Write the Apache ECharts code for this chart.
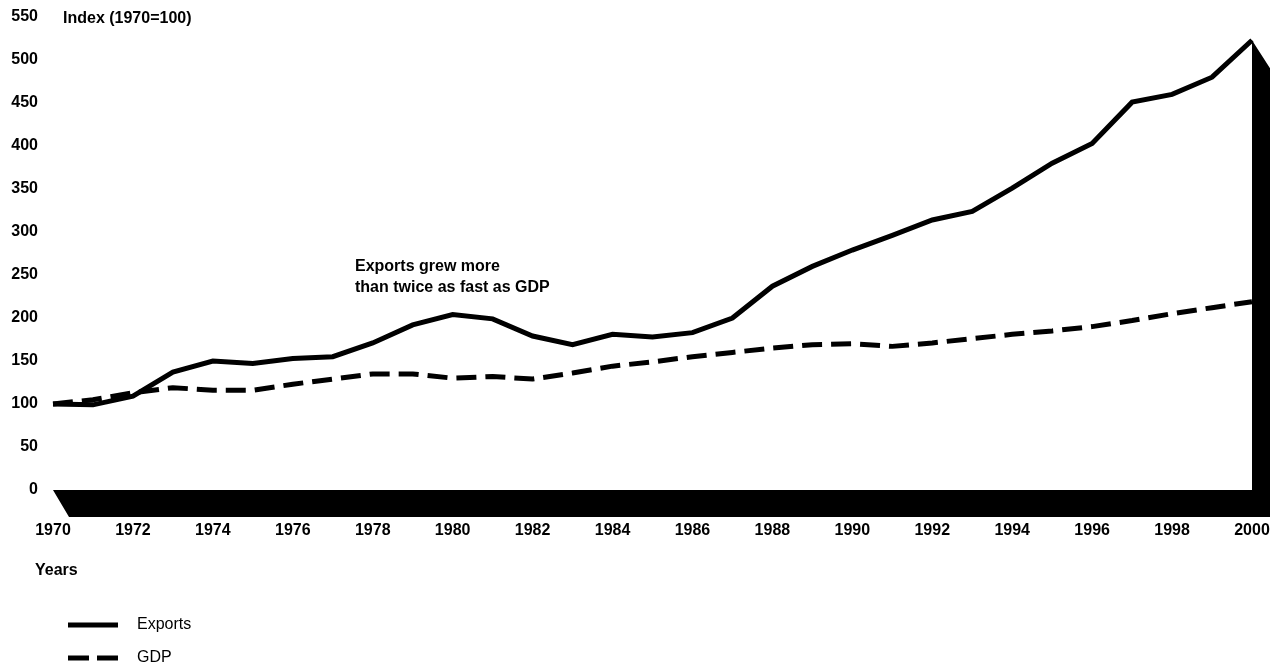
<!DOCTYPE html>
<html>
<head>
<meta charset="utf-8">
<script src="https://cdn.jsdelivr.net/npm/echarts@6/dist/echarts.min.js"></script>
<style>
html,body{margin:0;padding:0;background:#fff;}
#chart{width:1277px;height:665px;}
</style>
</head>
<body>
<div id="chart"></div>
<script>
const years = [1970,1971,1972,1973,1974,1975,1976,1977,1978,1979,1980,1981,1982,1983,1984,1985,1986,1987,1988,1989,1990,1991,1992,1993,1994,1995,1996,1997,1998,1999,2000];
const exportsIdx = [100,99,109,137,150,147,153,155,171,192,204,199,179,169,181,178,183,200,237,260,279,296,314,324,351,380,403,451,460,480,523];
const gdpIdx = [100,105,113,119,116,116,123,129,135,135,130,132,129,136,144,149,155,160,165,169,170,167,171,176,181,185,190,197,205,212,219];
const yTicks = [0,50,100,150,200,250,300,350,400,450,500,550];
const xTickYears = [1970,1972,1974,1976,1978,1980,1982,1984,1986,1988,1990,1992,1994,1996,1998,2000];

const FONT = 'Liberation Sans';
const chart = echarts.init(document.getElementById('chart'), null, {renderer:'canvas'});

const pair = (xs, ys) => xs.map((x,i)=>[x, ys[i]]);

const legendBase = {
  orient: 'horizontal', left: 63, itemWidth: 50, itemHeight: 5,
  textStyle: {color: '#000', fontFamily: FONT, fontSize: 16, padding: [0,0,0,14]},
  itemStyle: {color: '#000'}
};

const option = {
  animation: false,
  backgroundColor: '#fff',
  grid: {left: 53, right: 25, top: 17, bottom: 175, containLabel: false},
  xAxis: {
    type: 'value', min: 1970, max: 2000, interval: 2,
    axisLine: {show: false}, axisTick: {show: false}, splitLine: {show: false},
    axisLabel: {
      margin: 33, color: '#000', fontFamily: FONT, fontWeight: 'bold', fontSize: 16,
      formatter: v => xTickYears.includes(v) ? String(v) : ''
    }
  },
  yAxis: {
    type: 'value', min: yTicks[0], max: yTicks[yTicks.length-1], interval: 50,
    axisLine: {show: false}, axisTick: {show: false}, splitLine: {show: false},
    axisLabel: {margin: 15, color: '#000', fontFamily: FONT, fontWeight: 'bold', fontSize: 16}
  },
  legend: [
    Object.assign({}, legendBase, {top: 612, data: [{name: 'Exports', icon: 'rect'}]}),
    Object.assign({}, legendBase, {top: 645, data: [{name: 'GDP', icon: 'path://M0,0H21V5H0Z M29,0H50V5H29Z'}]})
  ],
  graphic: [
    {type: 'text', left: 63, top: 11, style: {text: 'Index (1970=100)', fill: '#000', fontFamily: FONT, fontWeight: 'bold', fontSize: 16}},
    {type: 'text', left: 35, top: 563, style: {text: 'Years', fill: '#000', fontFamily: FONT, fontWeight: 'bold', fontSize: 16}},
    {type: 'text', left: 355, top: 256, style: {text: 'Exports grew more\nthan twice as fast as GDP', fill: '#000', fontFamily: FONT, fontWeight: 'bold', fontSize: 16, lineHeight: 21}}
  ],
  series: [
    {
      type: 'custom', name: 'base', silent: true, z: 1,
      data: [[0]],
      renderItem: function(params, api) {
        const dx = 16, dy = 27;
        const a = api.coord([years[0], 0]);
        const b = api.coord([years[years.length-1], 0]);
        const t = api.coord([years[years.length-1], exportsIdx[exportsIdx.length-1]]);
        return {
          type: 'polygon',
          shape: {points: [a, b, t, [t[0]+dx+2, t[1]+dy+1], [b[0]+dx+2, b[1]+dy], [a[0]+dx, a[1]+dy]]},
          style: {fill: '#000', stroke: null}
        };
      }
    },
    {
      name: 'Exports', type: 'line', data: pair(years, exportsIdx), showSymbol: false, symbol: 'none', z: 3,
      lineStyle: {color: '#000', width: 5, join: 'miter'}, itemStyle: {color: '#000'}
    },
    {
      name: 'GDP', type: 'line', data: pair(years, gdpIdx), showSymbol: false, symbol: 'none', z: 2,
      lineStyle: {color: '#000', width: 5, type: [20, 9]}, itemStyle: {color: '#000'}
    }
  ]
};
chart.setOption(option);
</script>
</body>
</html>
